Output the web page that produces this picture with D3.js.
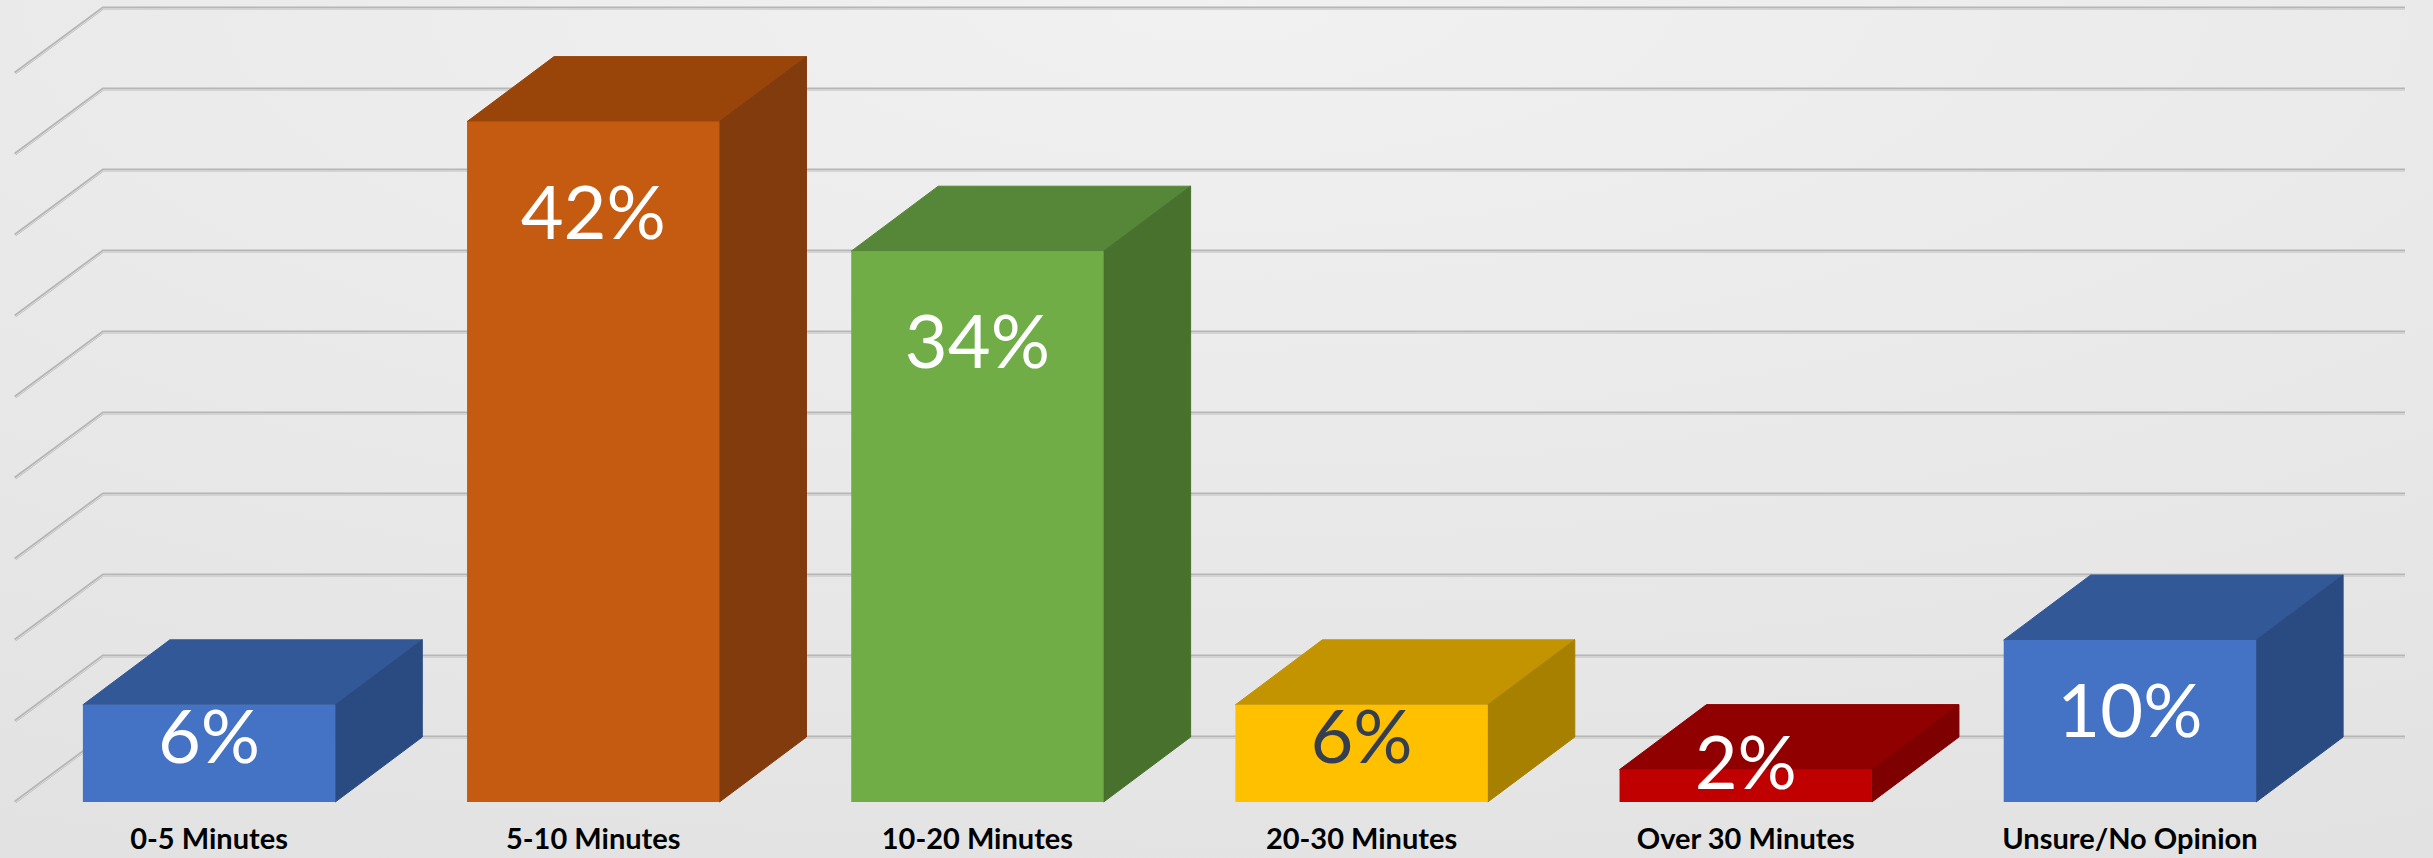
<!DOCTYPE html>
<html>
<head>
<meta charset="utf-8">
<script src="https://cdn.jsdelivr.net/npm/d3@7"></script>
<style>
  html, body { margin: 0; padding: 0; background: #ebebeb; }
  svg { display: block; }
</style>
</head>
<body>
<div id="chart"></div>
<script>
// data
var categories = ["0-5 Minutes", "5-10 Minutes", "10-20 Minutes", "20-30 Minutes", "Over 30 Minutes", "Unsure/No Opinion"];
var values = [6, 42, 34, 6, 2, 10];
var yTicks = [0, 5, 10, 15, 20, 25, 30, 35, 40, 45];

var frontColors = ["#4472C4", "#C55A11", "#70AD47", "#FFC000", "#C00000", "#4472C4"];
var topColors   = ["#335897", "#99450A", "#568637", "#C49300", "#900000", "#335897"];
var sideColors  = ["#2A4A82", "#813B0C", "#48712E", "#A88000", "#7E0000", "#2A4A82"];
var labelColors = ["#ffffff", "#ffffff", "#ffffff", "#333F50", "#ffffff", "#ffffff"];

var W = 2433, H = 858;
var depthX = 87, depthY = 65;   // 3d offset of the back wall
var floorY = 802;

var svg = d3.select("#chart").append("svg")
    .attr("width", W)
    .attr("height", H);

// background
var defs = svg.append("defs");
var grad = defs.append("radialGradient")
    .attr("id", "bg")
    .attr("cx", "50%").attr("cy", "0%").attr("r", "110%");
grad.append("stop").attr("offset", "0%").attr("stop-color", "#f1f1f1");
grad.append("stop").attr("offset", "100%").attr("stop-color", "#e3e2e2");
svg.append("rect")
    .attr("width", W).attr("height", H)
    .attr("fill", "url(#bg)");

var x = d3.scaleBand()
    .domain(categories)
    .range([17, 2322])
    .paddingInner(0.343)
    .paddingOuter(0.1715);

var y = d3.scaleLinear()
    .domain([0, 45])
    .range([floorY, floorY - 45 * 16.2]);

// gridlines on back wall + diagonals on the side
var grid = svg.append("g");
yTicks.forEach(function(t) {
    var yb = y(t) - depthY;
    var pts = [[15, yb + depthY], [15 + depthX + 1, yb], [2405, yb]];
    grid.append("path")
        .attr("d", d3.line()(pts))
        .attr("fill", "none")
        .attr("stroke", "#b6b6b6")
        .attr("stroke-width", 3);
    grid.append("path")
        .attr("d", d3.line()(pts.map(function(p) { return [p[0], p[1] + 0.8]; })))
        .attr("fill", "none")
        .attr("stroke", "#dedede")
        .attr("stroke-width", 1);
});

// bars
var bars = svg.append("g");
categories.forEach(function(c, i) {
    var x0 = x(c), x1 = x(c) + x.bandwidth();
    var yt = y(values[i]), yb = y(0);
    var g = bars.append("g");
    // top face
    g.append("path")
        .attr("d", d3.line()([[x0, yt], [x0 + depthX, yt - depthY], [x1 + depthX, yt - depthY], [x1, yt]]) + "Z")
        .attr("fill", topColors[i])
        .attr("stroke", topColors[i])
        .attr("stroke-width", 1);
    // side face
    g.append("path")
        .attr("d", d3.line()([[x1, yt], [x1 + depthX, yt - depthY], [x1 + depthX, yb - depthY], [x1, yb]]) + "Z")
        .attr("fill", sideColors[i])
        .attr("stroke", sideColors[i])
        .attr("stroke-width", 1);
    // front face
    g.append("rect")
        .attr("x", x0)
        .attr("y", yt)
        .attr("width", x.bandwidth())
        .attr("height", yb - yt)
        .attr("fill", frontColors[i]);
});

// value labels
svg.append("g").selectAll("text")
    .data(values)
    .enter()
    .append("text")
    .attr("x", function(d, i) { return x(categories[i]) + x.bandwidth() / 2; })
    .attr("y", function(d) {
        var h = y(0) - y(d);
        return y(d) + Math.min(h * 0.6, 117);
    })
    .attr("text-anchor", "middle")
    .attr("font-family", "Lato, 'Open Sans', sans-serif")
    .attr("font-weight", 400)
    .attr("font-size", 74)
    .attr("fill", function(d, i) { return labelColors[i]; })
    .text(function(d) { return d + "%"; });

// category labels
svg.append("g").selectAll("text")
    .data(categories)
    .enter()
    .append("text")
    .attr("x", function(d) { return x(d) + x.bandwidth() / 2; })
    .attr("y", 849)
    .attr("text-anchor", "middle")
    .attr("font-family", "Lato, 'Open Sans', sans-serif")
    .attr("font-weight", 700)
    .attr("font-size", 29)
    .attr("fill", "#000")
    .text(function(d) { return d; });
</script>
</body>
</html>
